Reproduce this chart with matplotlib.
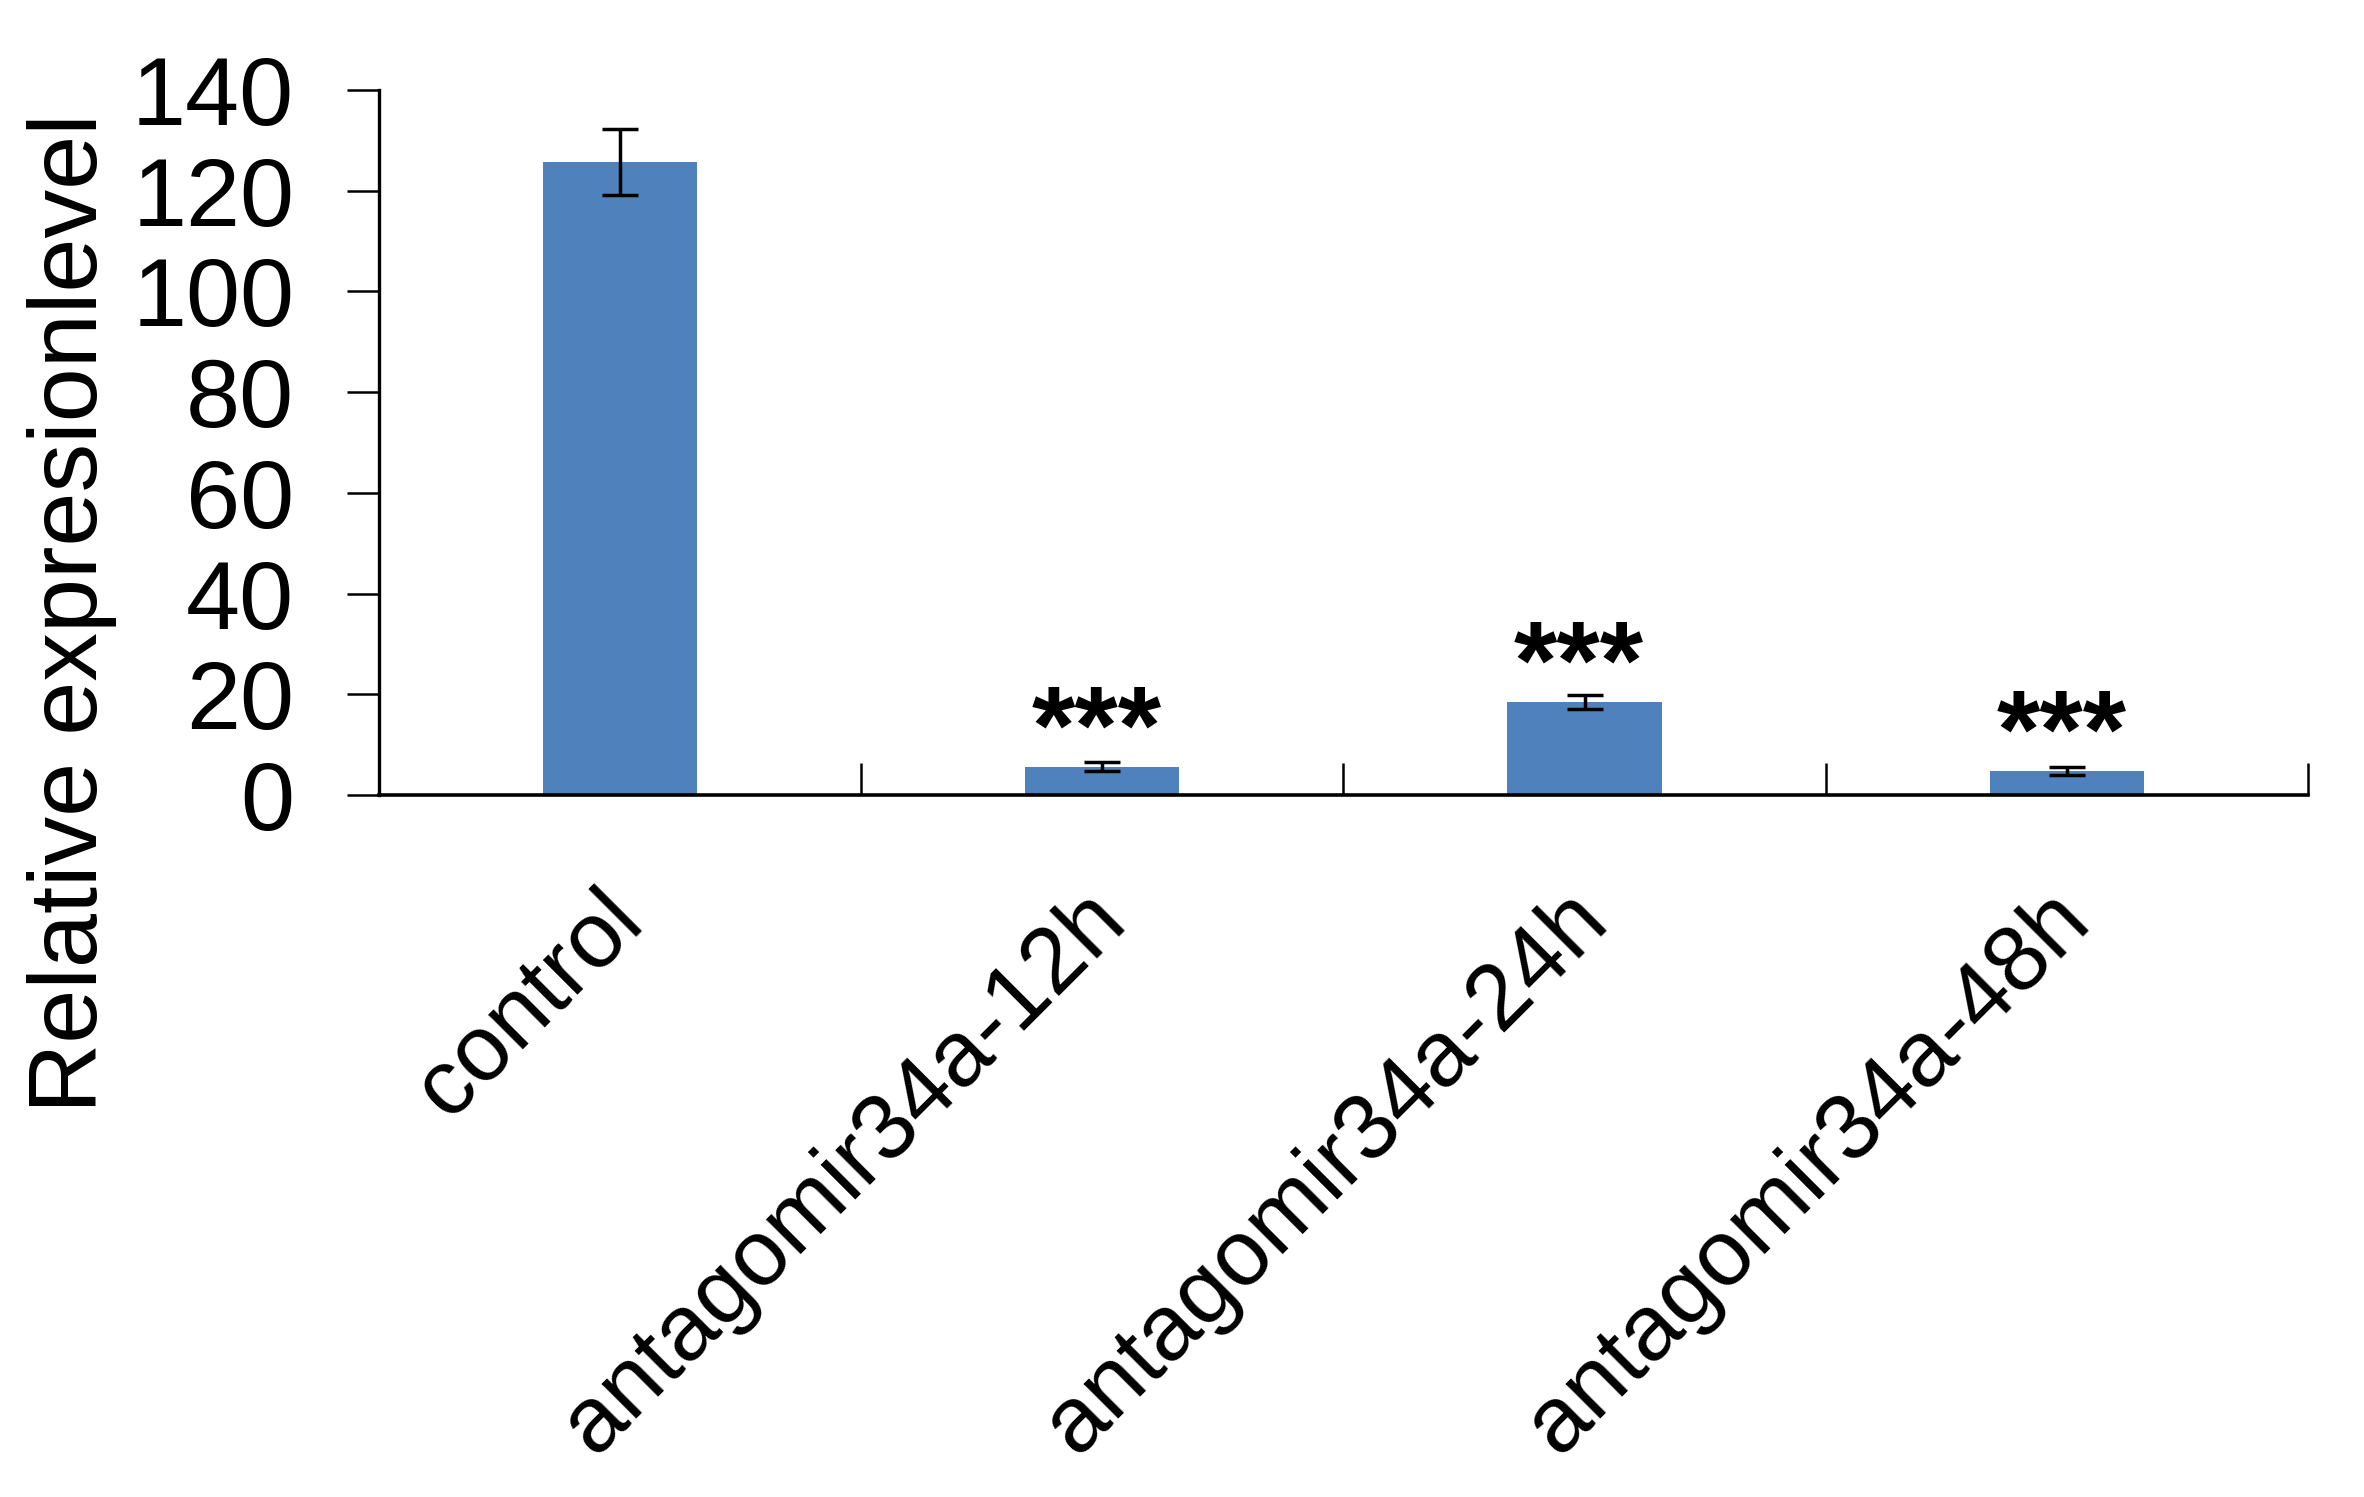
import numpy as np
import matplotlib
matplotlib.use("Agg")
import matplotlib.pyplot as plt
import matplotlib.transforms as mtransforms

plt.rcParams["font.family"] = ["Liberation Sans", "DejaVu Sans"]

groups = ["control", "antagomir34a-12h", "antagomir34a-24h", "antagomir34a-48h"]
values = [125.7, 5.6, 18.5, 4.8]
errors = [6.6, 0.9, 1.4, 0.8]
marks = ["", "***", "***", "***"]

fig = plt.figure(figsize=(23.64, 14.97), dpi=100)
ax = fig.add_axes([0.1603, 0.4689, 0.9763 - 0.1603, 0.9399 - 0.4689])

x = np.arange(len(groups))
ax.bar(x, values, width=0.32, color="#4F81BD", zorder=2)
ax.errorbar(x, values, yerr=errors, fmt="none", ecolor="black",
            elinewidth=2.5, capsize=13, capthick=2.5, zorder=3)

# significance stars, placed a fixed distance above each bar
for xi, v, m in zip(x, values, marks):
    if m:
        ax.annotate(m, (xi, v), xytext=(-4, 23), textcoords="offset points",
                    ha="center", va="center", fontsize=80, fontweight="bold")

ax.set_xlim(-0.5, len(groups) - 0.5)
ax.set_ylim(0, 140)
ax.set_yticks(np.arange(0, 141, 20))

ax.spines["top"].set_visible(False)
ax.spines["right"].set_visible(False)
ax.spines["left"].set_linewidth(2.4)
ax.spines["bottom"].set_linewidth(2.6)

ax.tick_params(axis="y", direction="out", length=23, width=1.8,
               labelsize=70, pad=38)

ax.set_xticks(x)
ax.set_xticklabels(groups, rotation=45, ha="right", va="top",
                   rotation_mode="anchor", fontsize=67)
ax.tick_params(axis="x", which="major", length=0, pad=58)
ax.set_xticks(np.append(x[1:] - 0.5, len(groups) - 0.5), minor=True)
ax.tick_params(axis="x", which="minor", direction="in", length=23, width=1.8)

shift = mtransforms.ScaledTranslation(-0.22, 0, fig.dpi_scale_trans)
for lab in ax.get_xticklabels():
    lab.set_transform(lab.get_transform() + shift)

ax.set_ylabel("Relative expresionlevel", fontsize=70, va="center")
ax.yaxis.set_label_coords(-0.159, 0.258)

fig.savefig("out.png", dpi=100)
